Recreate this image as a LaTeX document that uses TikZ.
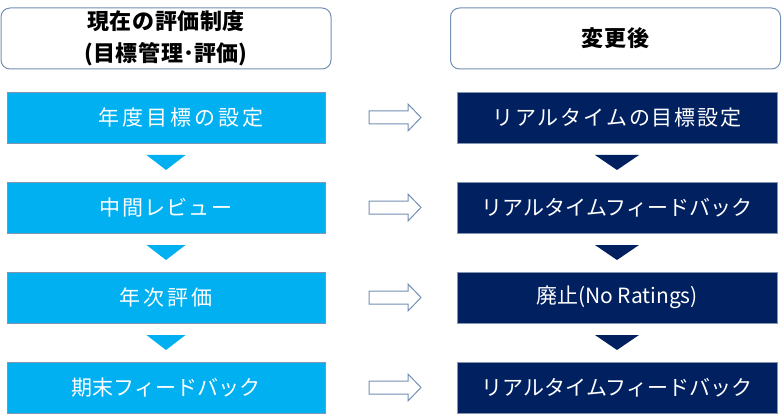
\documentclass[tikz,border=0pt]{standalone}
\usepackage{fontspec}
\setmainfont{Noto Sans CJK JP}
\usetikzlibrary{positioning,calc}
\definecolor{lblue}{HTML}{00B0F0}
\definecolor{navy}{HTML}{002060}
\definecolor{edgeblue}{HTML}{7490B4}
\definecolor{boxedge}{HTML}{8296B0}
\newcommand{\ls}[2]{{\addfontfeatures{LetterSpace=#1}#2}}
\tikzset{
  header/.style={draw=edgeblue, line width=1pt, rounded corners=9pt, fill=white,
    minimum width=330pt, minimum height=61pt, inner sep=0pt, align=center,
    font=\fontsize{22pt}{32pt}\selectfont\bfseries},
  oldbox/.style={draw=boxedge, line width=0.8pt, fill=lblue, text=white,
    minimum width=318pt, minimum height=51pt, inner sep=0pt,
    font=\fontsize{21pt}{24pt}\selectfont},
  newbox/.style={draw=boxedge, line width=0.8pt, fill=navy, text=white,
    minimum width=320pt, minimum height=51pt, inner sep=0pt,
    font=\fontsize{21pt}{24pt}\selectfont},
  blockarrow/.style={draw=edgeblue, line width=1pt, fill=white, line join=miter},
}
\begin{document}
\begin{tikzpicture}[x=1pt,y=-1pt]
\useasboundingbox (0,0) rectangle (782,417);
% headers
\node[header] (h1) at (166,38.5) {\ls{3}{現在の評価制度}\\(\ls{3}{目標管理}･\ls{3}{評価})};
\node[header] (h2) at (615.5,38.5) {\ls{3}{変更後}};
% left column
\node[oldbox] (a1) at (166,117.5) {\hspace{30pt}\ls{14}{年度目標の設定}};
\node[oldbox] (a2) at (166,207.5) {\ls{6}{中間レビュー}};
\node[oldbox] (a3) at (166,297.5) {\ls{14}{年次評価}};
\node[oldbox] (a4) at (166,387.5) {期末フィードバック};
% right column
\node[newbox] (b1) at (617,117.5) {\ls{9}{リアルタイムの目標設定}};
\node[newbox] (b2) at (617,207.5) {リアルタイムフィードバック};
\node[newbox] (b3) at (617,297.5) {廃止(No Ratings)};
\node[newbox] (b4) at (617,387.5) {リアルタイムフィードバック};
% down triangles
\foreach \i/\j in {1/2,2/3,3/4}{
  \path (a\i.south) -- (a\j.north) coordinate[pos=0.5] (ta\i);
  \fill[lblue] ([xshift=-19.5pt,yshift=7.5pt]ta\i) -- ([xshift=19.5pt,yshift=7.5pt]ta\i) -- ([yshift=-7.5pt]ta\i) -- cycle;
  \path (b\i.south) -- (b\j.north) coordinate[pos=0.5] (tb\i);
  \fill[navy] ([xshift=-22pt,yshift=7.5pt]tb\i) -- ([xshift=22pt,yshift=7.5pt]tb\i) -- ([yshift=-7.5pt]tb\i) -- cycle;
}
% block arrows
\foreach \i in {1,2,3,4}{
  \coordinate (c\i) at ($(a\i.east)!0.5!(b\i.west)+(4,0)$);
  \draw[blockarrow] ([xshift=-26pt,yshift=6.5pt]c\i) -- ([xshift=13pt,yshift=6.5pt]c\i)
    -- ([xshift=13pt,yshift=13.5pt]c\i) -- ([xshift=26pt]c\i)
    -- ([xshift=13pt,yshift=-13.5pt]c\i) -- ([xshift=13pt,yshift=-6.5pt]c\i)
    -- ([xshift=-26pt,yshift=-6.5pt]c\i) -- cycle;
}
\end{tikzpicture}
\end{document}
